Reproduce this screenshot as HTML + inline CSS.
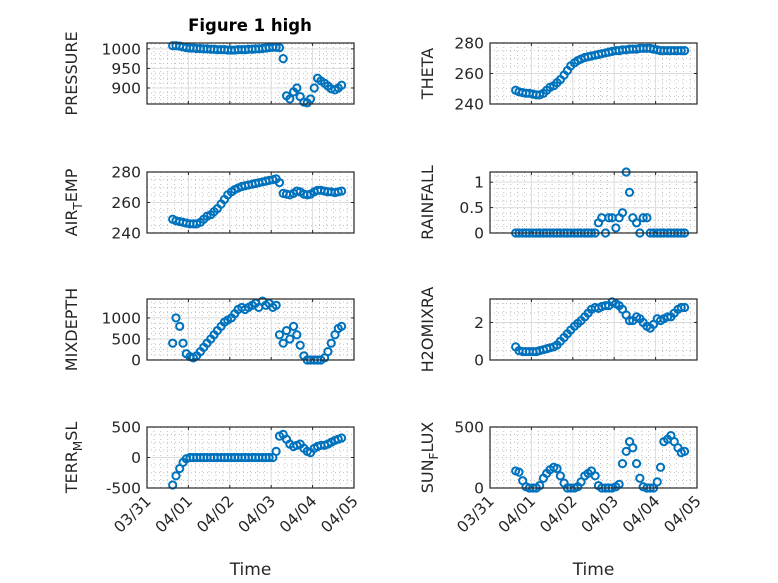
<!DOCTYPE html>
<html><head><meta charset="utf-8"><style>
html,body{margin:0;padding:0;background:#fff;}
svg{display:block;font-family:"DejaVu Sans","Liberation Sans",sans-serif;}
</style></head><body>
<svg id="fig" width="778" height="583" viewBox="0 0 778 583"></svg>
<script>
const times=[0.62,0.70,0.79,0.87,0.95,1.04,1.12,1.20,1.29,1.37,1.45,1.54,1.62,1.70,1.79,1.87,1.95,2.04,2.12,2.20,2.29,2.37,2.45,2.54,2.62,2.70,2.79,2.87,2.95,3.04,3.12,3.20,3.29,3.37,3.45,3.54,3.62,3.70,3.79,3.87,3.95,4.04,4.12,4.20,4.29,4.37,4.45,4.54,4.62,4.70];
const xTickLabels=["03/31","04/01","04/02","04/03","04/04","04/05"];
const pressure=[1008,1008,1007,1005,1003,1002,1002,1001,1001,1000,1000,999,999,998,998,998,997,997,997,998,998,998,999,999,1000,1000,1001,1002,1003,1004,1004,1003,975,880,872,890,900,878,864,862,872,900,925,918,912,905,898,895,900,907];
const theta=[249,248,247.5,247,247,246.5,246,246,247,249,251,252,254,256,259,262,265,267,268.5,269.5,270.5,271,271.5,272,272.5,273,273.5,274,274.5,275,275,275.5,275.5,276,276,276,276.5,276.5,276.5,276.5,276,275.5,275,275,275,275,275,275,275,275];
const airTemp=[249,248,247.5,247,246.5,246,246,246,247,249,251,252,254,256,259,262,265,267,268.5,269.5,270.5,271,271.5,272,272.5,273,273.5,274,274.5,275,275.5,273,266,265.5,265,266,267.5,267,265.5,265,265.5,267,268,268,267.5,267,267,266.5,267,267.5];
const rainfall=[0,0,0,0,0,0,0,0,0,0,0,0,0,0,0,0,0,0,0,0,0,0,0,0,0.2,0.3,0,0.3,0.3,0.1,0.3,0.4,1.2,0.8,0.3,0.2,0,0.3,0.3,0,0,0,0,0,0,0,0,0,0,0];
const mixDepth=[400,1000,800,400,150,80,50,100,200,300,400,500,600,700,800,900,950,1000,1100,1200,1250,1200,1250,1300,1350,1250,1400,1300,1350,1250,1300,600,400,700,500,800,600,350,100,0,0,0,0,0,50,200,400,600,750,800];
const h2oMix=[0.7,0.5,0.45,0.45,0.45,0.45,0.45,0.5,0.55,0.6,0.65,0.7,0.8,1.0,1.2,1.4,1.6,1.8,1.95,2.1,2.3,2.5,2.7,2.8,2.75,2.85,2.9,2.9,3.1,3.0,2.9,2.7,2.4,2.1,2.1,2.3,2.2,2.0,1.8,1.7,1.9,2.2,2.1,2.2,2.3,2.3,2.5,2.7,2.8,2.8];
const terrMsl=[-450,-300,-180,-80,-20,0,0,0,0,0,0,0,0,0,0,0,0,0,0,0,0,0,0,0,0,0,0,0,0,0,100,350,380,300,220,180,200,220,150,100,80,150,180,200,200,220,250,280,300,320];
const sunFlux=[140,130,60,10,0,0,0,20,80,120,150,170,160,100,40,0,0,0,10,50,100,120,140,100,20,0,0,0,0,10,30,200,300,380,330,200,80,10,0,0,0,50,170,380,400,430,380,330,290,300];
const pressureTicks=[900,950,1000];
const thetaTicks=[240,260,280];
const airTicks=[240,260,280];
const rainTicks=[0,0.5,1];
const mixTicks=[0,500,1000];
const h2oTicks=[0,2];
const terrTicks=[-500,0,500];
const sunTicks=[0,500];

const NS="http://www.w3.org/2000/svg";
const svg=document.getElementById('fig');
function mk(tag,attrs,parent){const e=document.createElementNS(NS,tag);for(const k in attrs)e.setAttribute(k,attrs[k]);(parent||svg).appendChild(e);return e;}

const cols=[147,490], W=207;
const rows=[43,172,299,427], H=61;
const panels=[
 {name:'pressure',c:0,r:0,data:pressure,ticks:pressureTicks,ymin:859,ymax:1015,minor:12.5,label:['PRESSURE']},
 {name:'theta',c:1,r:0,data:theta,ticks:thetaTicks,ymin:240,ymax:280,minor:5,label:['THETA']},
 {name:'air-temp',c:0,r:1,data:airTemp,ticks:airTicks,ymin:240,ymax:280,minor:5,label:['AIR','T','EMP']},
 {name:'rainfall',c:1,r:1,data:rainfall,ticks:rainTicks,ymin:0,ymax:1.2,minor:0.125,label:['RAINFALL']},
 {name:'mixdepth',c:0,r:2,data:mixDepth,ticks:mixTicks,ymin:0,ymax:1450,minor:125,label:['MIXDEPTH']},
 {name:'h2omixra',c:1,r:2,data:h2oMix,ticks:h2oTicks,ymin:0,ymax:3.25,minor:0.5,label:['H2OMIXRA']},
 {name:'terr-msl',c:0,r:3,data:terrMsl,ticks:terrTicks,ymin:-500,ymax:500,minor:125,label:['TERR','M','SL']},
 {name:'sun-flux',c:1,r:3,data:sunFlux,ticks:sunTicks,ymin:0,ymax:500,minor:62.5,label:['SUN','F','LUX']}
];
const DAYS=5;
panels.forEach(p=>{
  const x0=cols[p.c], y0=rows[p.r];
  const xs=t=>x0+t/DAYS*W;
  const ys=v=>y0+H-(v-p.ymin)/(p.ymax-p.ymin)*H;
  const g=mk('g',{});
  
  
  mk('rect',{x:x0,y:y0,width:W,height:H,fill:'#fff'},g);
  for(let t=0;t<=DAYS+1e-9;t+=1/6){ if(Math.abs(t-Math.round(t))<1e-6)continue;
    mk('line',{x1:xs(t),x2:xs(t),y1:y0,y2:y0+H,stroke:'#b0b0b0','stroke-width':0.8,'stroke-dasharray':'1 3'},g);}
  for(let v=Math.ceil(p.ymin/p.minor)*p.minor;v<=p.ymax+1e-9;v+=p.minor){
    if(p.ticks.some(tk=>Math.abs(tk-v)<1e-9))continue;
    mk('line',{x1:x0,x2:x0+W,y1:ys(v),y2:ys(v),stroke:'#b0b0b0','stroke-width':0.8,'stroke-dasharray':'1 3'},g);}
  for(let d=1;d<DAYS;d++) mk('line',{x1:xs(d),x2:xs(d),y1:y0,y2:y0+H,stroke:'#dcdcdc','stroke-width':1},g);
  p.ticks.forEach(v=>{ mk('line',{x1:x0,x2:x0+W,y1:ys(v),y2:ys(v),stroke:'#dcdcdc','stroke-width':1},g);
    mk('line',{x1:x0,x2:x0+3,y1:ys(v),y2:ys(v),stroke:'#262626'},g);
    mk('line',{x1:x0+W,x2:x0+W-3,y1:ys(v),y2:ys(v),stroke:'#262626'},g);
    const tx=mk('text',{x:x0-6,y:ys(v)+5.5,'text-anchor':'end','font-size':15.5,fill:'#262626'},g);
    tx.textContent=String(v);
    
    
  });
  for(let d=0;d<=DAYS;d++){
    mk('line',{x1:xs(d),x2:xs(d),y1:y0+H,y2:y0+H-3,stroke:'#262626'},g);
    mk('line',{x1:xs(d),x2:xs(d),y1:y0,y2:y0+3,stroke:'#262626'},g);
  }
  const mg=mk('g',{fill:'none',stroke:'#0072BD','stroke-width':2},g);
  
  
  p.data.forEach((v,i)=>{
    const c=mk('circle',{cx:xs(times[i]),cy:ys(v),r:3.6},mg);
    
    
  });
  mk('rect',{x:x0,y:y0,width:W,height:H,fill:'none',stroke:'#262626','stroke-width':1.2},g);
  const lx=x0-(p.c===0?70:57), ly=y0+H/2;
  const yl=mk('text',{x:lx,y:ly,'text-anchor':'middle','font-size':16,fill:'#262626',transform:`rotate(-90 ${lx} ${ly})`},svg);
  
  
  if(p.label.length===1){yl.textContent=p.label[0];}
  else{
    const a=mk('tspan',{},yl);a.textContent=p.label[0];
    const b=mk('tspan',{dy:5,'font-size':12},yl);b.textContent=p.label[1];
    const c=mk('tspan',{dy:-5},yl);c.textContent=p.label[2];
  }
  if(p.r===3){
    for(let d=0;d<=DAYS;d++){
      const X=xs(d)+5, Y=y0+H+14;
      const tl=mk('text',{x:X,y:Y,'text-anchor':'end','font-size':15.5,fill:'#262626',transform:`rotate(-45 ${X} ${Y})`},svg);
      tl.textContent=xTickLabels[d];
      
      
    }
    const xl=mk('text',{x:x0+W/2,y:575,'text-anchor':'middle','font-size':17,fill:'#262626'},svg);
    xl.textContent='Time';
    
    
  }
});
const title=mk('text',{x:250,y:31,'text-anchor':'middle','font-size':16.5,'font-weight':'bold',fill:'#000'},svg);
title.textContent='Figure 1 high';


</script>
</body></html>
